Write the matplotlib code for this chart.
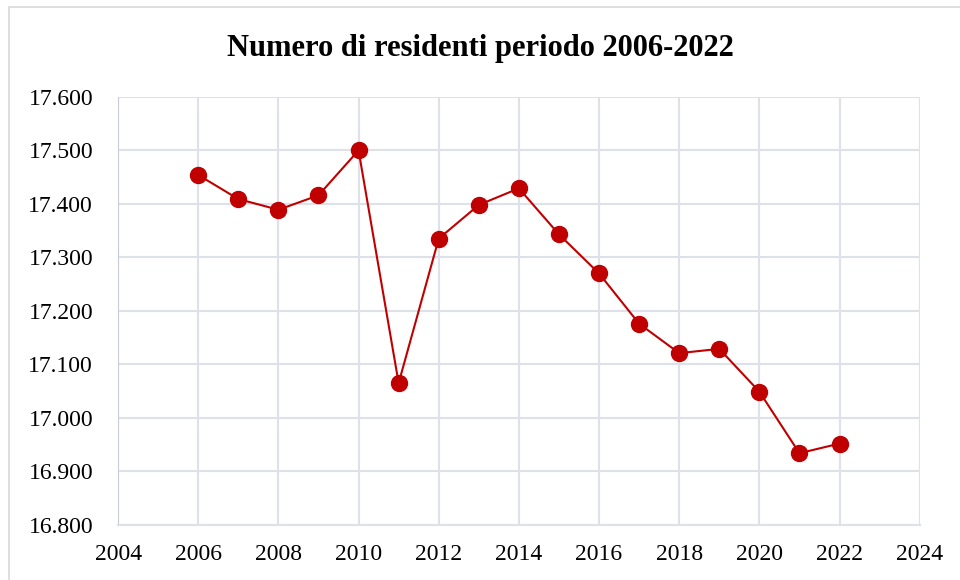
import matplotlib
matplotlib.use("Agg")
import matplotlib.pyplot as plt
from matplotlib.patches import Rectangle
from matplotlib.ticker import FuncFormatter, MultipleLocator

# dati: residenti per anno
anni = [2006, 2007, 2008, 2009, 2010, 2011, 2012, 2013, 2014,
        2015, 2016, 2017, 2018, 2019, 2020, 2021, 2022]
residenti = [17454, 17409, 17389, 17416, 17500, 17065, 17335, 17398, 17429,
             17343, 17270, 17176, 17121, 17129, 17049, 16934, 16952]

plt.rcParams['font.family'] = ['Liberation Serif', 'DejaVu Serif']

fig = plt.figure(figsize=(9.6, 5.8), dpi=100)
ax = fig.add_axes([0.123, 0.095, 0.835, 0.738])

# cornice esterna del grafico
fig.patches.append(Rectangle((0.009, -0.01), 1.2, 0.998, transform=fig.transFigure,
                             fill=False, edgecolor='#d9d9d9', linewidth=1.2))

ax.plot(anni, residenti, color='#c00000', linewidth=1.5, marker='o',
        markersize=11.5, zorder=3)

ax.set_xlim(2004, 2024)
ax.set_ylim(16800, 17600)
ax.xaxis.set_major_locator(MultipleLocator(2))
ax.yaxis.set_major_locator(MultipleLocator(100))
ax.yaxis.set_major_formatter(FuncFormatter(lambda v, p: f"{v:,.0f}".replace(',', '.')))

ax.grid(True, color='#dde1ea', linewidth=1.5)
ax.set_axisbelow(True)
for s in ['top', 'right']:
    ax.spines[s].set_visible(False)
ax.spines['left'].set_color('#c8ccd6')
ax.spines['bottom'].set_color('#dde1ea')
ax.spines['bottom'].set_linewidth(1.5)
ax.tick_params(length=0, labelsize=17)
ax.tick_params(axis='x', pad=14)
ax.tick_params(axis='y', pad=18)

fig.text(0.5, 0.917, 'Numero di residenti periodo 2006-2022', ha='center', va='center',
         fontsize=22, fontweight='bold')

fig.savefig('out.png', dpi=100)
